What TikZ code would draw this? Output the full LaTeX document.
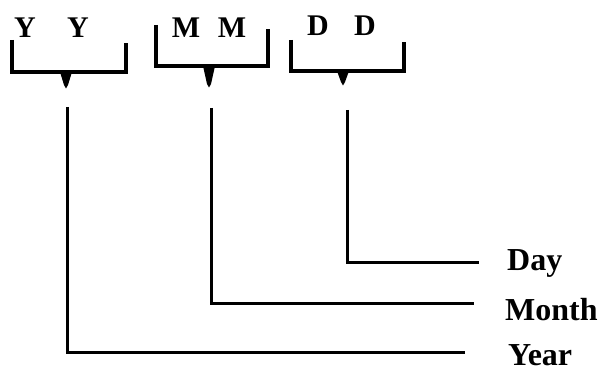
\documentclass[tikz,border=0pt]{standalone}
\usepackage{fontspec}
\setmainfont{Liberation Serif}
\begin{document}
\begin{tikzpicture}[x=1pt,y=-1pt,
  brk/.style={line width=3.2pt,line join=miter},
  lead/.style={line width=3pt},
  letter/.style={font=\bfseries\fontsize{30}{30}\selectfont,anchor=base,inner sep=0pt},
  lbl/.style={font=\bfseries\fontsize{32}{32}\selectfont,anchor=base west,inner sep=0pt},
  wedge/.style={fill=black}]
\useasboundingbox (0,0) rectangle (603,374);
% bracket letters
\node[letter] (y1) at (25,38) {Y};
\node[letter] (y2) at (78,38) {Y};
\node[letter] (m1) at (186,38) {M};
\node[letter] (m2) at (232,38) {M};
\node[letter] (d1) at (318,36) {D};
\node[letter] (d2) at (365,36) {D};
% brackets
\draw[brk] (12,40) -- (12,72) -- (126,72) -- (126,43);
\draw[brk] (156,25) -- (156,66) -- (268,66) -- (268,29);
\draw[brk] (291,40) -- (291,71) -- (404,71) -- (404,42);
% pointers
\fill[wedge] (60,72) -- (72,72) -- (68,85) -- (66,88.5) -- (64,85) -- cycle;
\fill[wedge] (203,66) -- (215,66) -- (211,84) -- (209,87.5) -- (207,84) -- cycle;
\fill[wedge] (337,71) -- (349,71) -- (345,82) -- (343,85.5) -- (341,82) -- cycle;
% labels
\node[lbl] (day) at (507,271) {Day};
\node[lbl] (month) at (505,320) {Month};
\node[lbl] (year) at (508,366) {Year};
% leads
\coordinate (ys) at (67,107);
\coordinate (ye) at (465,353);
\coordinate (ms) at (211,108);
\coordinate (me) at (474,304);
\coordinate (ds) at (347,110);
\coordinate (de) at (479,263);
\draw[lead] (ys) |- (ye);
\draw[lead] (ms) |- (me);
\draw[lead] (ds) |- (de);
\end{tikzpicture}
\end{document}
